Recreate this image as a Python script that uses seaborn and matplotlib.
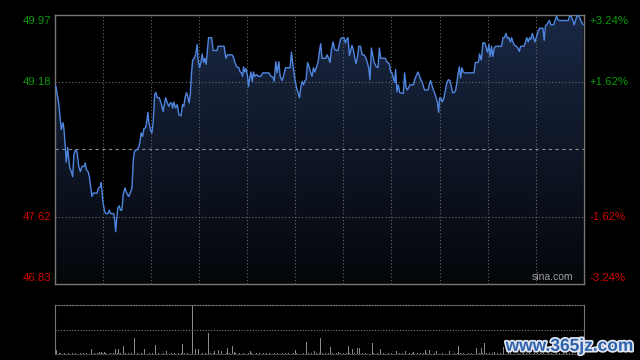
import numpy as np
import pandas as pd
import seaborn as sns
import matplotlib.pyplot as plt
import matplotlib.patheffects as pe
from matplotlib.colors import LinearSegmentedColormap

# minutes since open (HK session, 330 min) and price
minutes = [0.0, 0.9, 2.6, 4.2, 5.3, 5.9, 6.7, 7.3, 8.2, 8.8, 9.5, 10.5, 11.3, 12.1, 13.0, 14.0,
           15.1, 16.1, 17.1, 18.4, 19.2, 19.8, 20.9, 21.7, 22.5, 23.3, 24.2, 26.5, 27.5, 28.5,
           29.1, 29.6, 30.2, 31.3, 32.1, 33.3, 34.1, 35.0, 36.9, 37.5, 38.1, 38.7, 39.5, 40.3,
           41.2, 42.0, 42.8, 43.9, 45.0, 46.2, 47.2, 48.3, 49.1, 49.9, 51.2, 52.4, 53.2, 54.0,
           54.9, 55.7, 56.8, 57.6, 58.2, 58.8, 59.9, 60.7, 61.5, 62.4, 63.2, 64.0, 65.3, 66.7,
           67.7, 69.2, 70.5, 71.3, 72.1, 73.0, 73.6, 74.4, 75.5, 76.5, 77.5, 78.8, 79.8, 80.6,
           81.3, 82.3, 83.1, 83.9, 84.6, 85.4, 86.1, 87.0, 87.9, 88.9, 89.5, 90.4, 91.2, 92.0,
           92.9, 93.7, 94.5, 95.4, 96.0, 97.9, 98.9, 101.2, 102.0, 105.7, 106.8, 107.8, 110.7,
           111.6, 112.4, 113.6, 114.9, 115.7, 116.6, 117.2, 117.8, 118.6, 119.4, 120.3, 120.9,
           121.5, 122.4, 123.2, 124.0, 124.8, 125.9, 126.9, 128.6, 129.8, 131.1, 133.6, 134.8,
           136.2, 136.9, 137.9, 138.7, 139.8, 140.6, 141.8, 142.7, 144.0, 146.8, 147.7, 148.5,
           149.3, 149.9, 150.8, 151.8, 152.7, 153.5, 154.3, 155.2, 156.0, 156.8, 157.7, 158.7,
           159.5, 160.5, 161.4, 162.2, 163.3, 164.3, 165.1, 165.9, 166.7, 169.1, 169.9, 170.9,
           171.7, 172.6, 173.6, 174.7, 175.9, 176.7, 177.6, 178.4, 179.5, 180.4, 181.3, 182.1,
           182.9, 183.8, 184.6, 185.4, 186.3, 187.1, 187.9, 188.8, 189.6, 190.7, 191.7, 192.9,
           193.9, 195.0, 195.8, 196.6, 197.5, 198.3, 199.1, 200.2, 201.6, 202.5, 203.3, 206.2,
           207.0, 207.8, 208.7, 209.5, 210.3, 211.2, 212.0, 212.6, 213.4, 214.3, 215.1, 217.4,
           218.2, 219.1, 219.9, 220.7, 221.5, 223.7, 224.5, 225.5, 226.5, 227.4, 228.2, 229.0,
           229.9, 230.7, 232.8, 233.6, 234.4, 235.2, 236.1, 236.9, 237.7, 238.6, 239.4, 240.0,
           240.7, 241.7, 242.7, 243.6, 244.6, 245.5, 246.5, 247.3, 248.1, 249.2, 250.0, 250.8,
           251.4, 252.3, 253.1, 253.9, 254.8, 256.0, 261.4, 262.3, 263.5, 264.3, 264.9, 265.6,
           266.0, 267.0, 268.1, 269.1, 269.9, 270.7, 271.6, 272.4, 273.2, 274.1, 274.9, 278.6,
           279.5, 280.5, 281.3, 282.4, 283.2, 284.1, 284.9, 285.7, 286.7, 287.8, 288.8, 289.7,
           290.5, 292.5, 293.4, 294.4, 295.3, 296.1, 296.9, 297.8, 298.6, 299.4, 300.2, 301.2,
           302.3, 304.4, 305.2, 306.0, 306.8, 307.7, 308.5, 309.3, 311.0, 311.8, 312.9, 313.7,
           314.8, 320.2, 321.0, 322.0, 322.9, 323.9, 324.7, 325.5, 326.6, 327.6, 328.5, 329.5]
prices = [49.14, 49.13, 48.94, 48.63, 48.71, 48.63, 48.43, 48.25, 48.42, 48.30, 48.18, 48.14,
          48.08, 48.34, 48.39, 48.37, 48.20, 48.14, 48.20, 48.20, 48.24, 48.16, 48.14, 48.08,
          47.96, 47.85, 47.89, 47.89, 47.95, 47.96, 48.01, 47.90, 47.78, 47.67, 47.65, 47.65,
          47.69, 47.65, 47.65, 47.58, 47.44, 47.58, 47.72, 47.74, 47.69, 47.69, 47.87, 47.95,
          47.89, 47.85, 47.89, 47.95, 48.28, 48.38, 48.39, 48.42, 48.48, 48.59, 48.55, 48.64,
          48.65, 48.74, 48.83, 48.71, 48.62, 48.59, 48.72, 49.04, 49.06, 49.00, 49.00, 48.92,
          48.84, 49.00, 48.93, 48.90, 48.94, 48.94, 48.88, 48.95, 48.88, 48.92, 48.80, 48.79,
          48.92, 48.90, 49.00, 49.06, 49.01, 48.94, 49.04, 49.29, 49.44, 49.46, 49.50, 49.62,
          49.44, 49.35, 49.41, 49.51, 49.41, 49.46, 49.39, 49.58, 49.70, 49.70, 49.55, 49.55,
          49.60, 49.60, 49.46, 49.50, 49.50, 49.47, 49.41, 49.36, 49.35, 49.30, 49.29, 49.25,
          49.36, 49.30, 49.34, 49.25, 49.13, 49.21, 49.30, 49.19, 49.30, 49.25, 49.27, 49.25,
          49.25, 49.29, 49.29, 49.29, 49.25, 49.24, 49.19, 49.42, 49.29, 49.42, 49.25, 49.20,
          49.25, 49.35, 49.35, 49.53, 49.39, 49.29, 49.20, 49.12, 49.06, 49.00, 49.12, 49.19,
          49.15, 49.20, 49.21, 49.41, 49.36, 49.30, 49.25, 49.35, 49.30, 49.36, 49.42, 49.54,
          49.63, 49.46, 49.46, 49.50, 49.46, 49.41, 49.56, 49.65, 49.56, 49.55, 49.55, 49.63,
          49.69, 49.70, 49.70, 49.64, 49.68, 49.70, 49.49, 49.55, 49.61, 49.55, 49.47, 49.40,
          49.47, 49.60, 49.60, 49.50, 49.50, 49.47, 49.41, 49.35, 49.21, 49.58, 49.50, 49.42,
          49.37, 49.35, 49.58, 49.46, 49.46, 49.42, 49.41, 49.39, 49.30, 49.29, 49.23, 49.18,
          49.33, 49.07, 49.15, 49.06, 49.05, 49.29, 49.12, 49.09, 49.12, 49.15, 49.15, 49.21,
          49.26, 49.30, 49.26, 49.21, 49.19, 49.13, 49.09, 49.09, 49.16, 49.20, 49.15, 49.09,
          49.06, 49.01, 48.95, 48.83, 49.00, 49.00, 48.95, 49.00, 49.09, 49.18, 49.21, 49.20,
          49.13, 49.06, 49.06, 49.09, 49.18, 49.27, 49.36, 49.23, 49.35, 49.30, 49.29, 49.29,
          49.41, 49.41, 49.42, 49.51, 49.47, 49.44, 49.64, 49.64, 49.58, 49.53, 49.62, 49.48,
          49.60, 49.48, 49.58, 49.60, 49.60, 49.70, 49.70, 49.75, 49.69, 49.70, 49.65, 49.70,
          49.65, 49.61, 49.60, 49.58, 49.54, 49.60, 49.60, 49.64, 49.70, 49.65, 49.70, 49.68,
          49.75, 49.70, 49.65, 49.70, 49.76, 49.81, 49.81, 49.67, 49.84, 49.85, 49.88, 49.90,
          49.85, 49.85, 49.89, 49.95, 49.91, 49.90, 49.90, 49.95, 49.95, 49.91, 49.85, 49.90,
          49.95, 49.96, 49.92, 49.88, 49.85]

prev_close = 48.40
left_ticks = [49.97, 49.18, 47.62, 46.83]
right_ticks = ["+3.24%", "+1.62%", "-1.62%", "-3.24%"]

# volume: small bars per minute + the bigger spikes
vol_base = [int(c) for c in (
    "3211212112" "1212112121" "2112121213" "2121121212" "1211212121"
    "2121211212" "1212121121" "2112121212" "1212112121" "2121211212"
    "1121211212" "1212121121" "1212112121" "2121211212" "1121212112"
    "1212121121" "2112121212" "1212112121" "2121211212" "1121212112"
    "1212121121" "2112121212" "1212112121" "2121211212" "1121212112"
    "1212121121" "2112121212" "1212112121" "2121211212" "1121212112"
    "1212121121" "2112121212" "1212112121" "2")]
spike_min = [0, 1, 3, 23, 28, 31, 38, 40, 43, 50, 56, 63, 70, 80, 86, 88, 90, 96, 100, 102,
             104, 108, 111, 112, 122, 150, 157, 162, 166, 172, 177, 183, 186, 189, 190, 198,
             203, 213, 219, 224, 231, 234, 238, 246, 252, 263, 266, 268, 274, 280, 283]
spike_vol = [15.5, 4.5, 2, 5.2, 2.8, 2.8, 5.5, 6, 8.5, 16.6, 5.2, 9.5, 3.4, 11, 50, 5.5, 5.5,
             22, 3.4, 5, 3.8, 6.5, 9, 2.8, 4, 4.5, 13, 3.8, 17, 8, 2.8, 9, 5.5, 7, 6.2, 12,
             6, 3.4, 3.4, 2.8, 4.5, 4.5, 3.4, 3.4, 8.3, 6.8, 6.8, 12, 2.8, 7.5, 6.8]

volume = np.array(vol_base, dtype=float)
for m, v in zip(spike_min, spike_vol):
    volume[m] = v

df = pd.DataFrame({"minute": minutes, "price": prices})

sns.set_style("dark")
plt.rcParams["font.family"] = ["Liberation Sans", "DejaVu Sans"]

fig = plt.figure(figsize=(6.4, 3.6), dpi=100, facecolor="black")
ax = fig.add_axes([0.0852, 0.2111, 0.8273, 0.7486])
axv = fig.add_axes([0.0852, 0.0153, 0.8273, 0.1375])

ymin, ymax = 46.83, 49.97
for a in (ax, axv):
    a.set_facecolor("black")
    a.set_xticks([])
    a.set_yticks([])

# gradient fill under the price line
cmap = LinearSegmentedColormap.from_list("fill", ["#04060a", "#1a2844"])
grad = np.linspace(0, 1, 256).reshape(-1, 1)
img = ax.imshow(grad, extent=[0, 330, ymin, ymax], origin="lower", aspect="auto",
                cmap=cmap, zorder=1)
poly = ax.fill_between(df["minute"], df["price"], ymin, color="none", lw=0)
img.set_clip_path(poly.get_paths()[0], transform=ax.transData)

# grid
for m in range(30, 330, 30):
    ax.axvline(m, color="#6a6a6a", lw=0.8, ls=(0, (1, 2)), zorder=2)
for v in [49.185, 47.615]:
    ax.axhline(v, color="#6a6a6a", lw=0.8, ls=(0, (1, 2)), zorder=2)
ax.axhline(prev_close, color="#8a8a8a", lw=0.8, ls=(0, (3, 3)), zorder=2)

sns.lineplot(data=df, x="minute", y="price", ax=ax, color="#4f86e0", lw=1,
             estimator=None, zorder=3)
ax.set_xlim(0, 330)
ax.set_ylim(ymin, ymax)
ax.set_xlabel("")
ax.set_ylabel("")
for s in ax.spines.values():
    s.set_visible(True)
    s.set_color("#777777")
    s.set_linewidth(1)

# axis labels (top/bottom ones sit just inside the frame)
lab = [49.97, 49.185, 47.615, 46.83]
vas = ["top", "center", "center", "bottom"]
offs = [-0.015, 0, 0, 0.015]
cols = ["#0a9a0a", "#0a9a0a", "#d40000", "#d40000"]
for v, t, r, c, va, o in zip(lab, left_ticks, right_ticks, cols, vas, offs):
    ax.text(-0.007, v + o, f"{t:.2f}", color=c, fontsize=8.2, ha="right", va=va,
            transform=ax.get_yaxis_transform())
    ax.text(1.01, v + o, r, color=c, fontsize=8.2, ha="left", va=va,
            transform=ax.get_yaxis_transform())
ax.text(0.979, 0.008, "sina.com", color="#a0a0a0", fontsize=7.5, ha="right", va="bottom",
        transform=ax.transAxes)

# volume panel
axv.bar(np.arange(len(volume)), volume, width=0.6, color="#8a8a8a", linewidth=0)
axv.set_xlim(0, 330)
axv.set_ylim(0, volume.max())
axv.axhline(volume.max() / 2, color="#7a7a7a", lw=0.8, ls=(0, (1, 1.5)))
for k in ["left", "right"]:
    axv.spines[k].set_visible(True)
    axv.spines[k].set_color("#777777")
axv.spines["top"].set_visible(True)
axv.spines["top"].set_color("#7a7a7a")
axv.spines["top"].set_linestyle((0, (1, 1.5)))
axv.spines["bottom"].set_visible(True)
axv.spines["bottom"].set_color("#555555")
axv.spines["bottom"].set_linestyle((0, (1, 1.5)))

fig.text(0.89, 0.038, "www.365jz.com", color="#2f62ad", fontsize=12.5, fontweight="bold",
         ha="center", va="center",
         path_effects=[pe.withStroke(linewidth=2.5, foreground="#dfe6f0")])

fig.savefig("out.png", dpi=100, facecolor="black")
